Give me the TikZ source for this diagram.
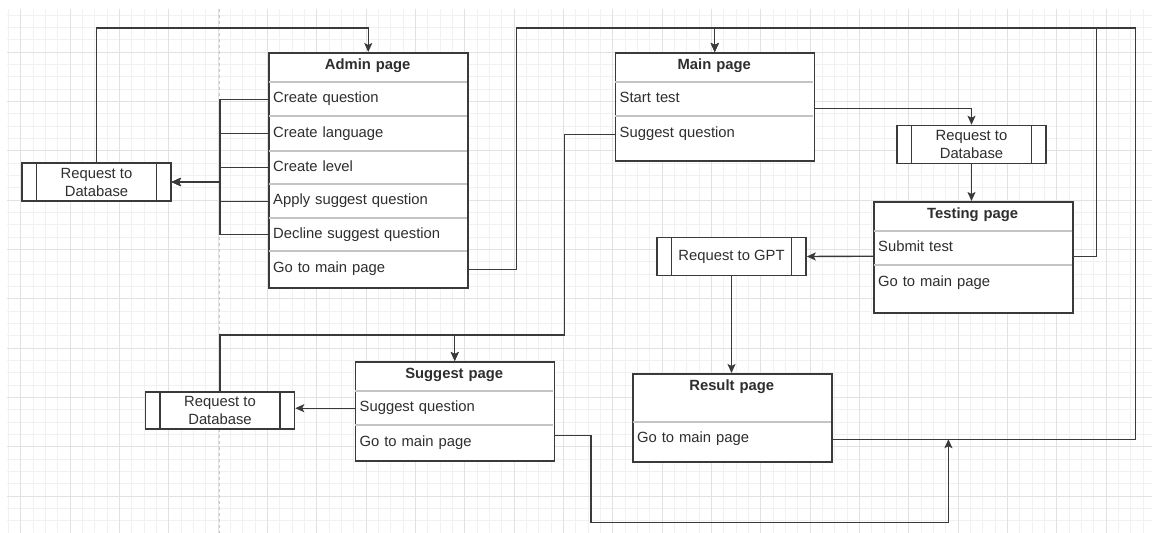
\documentclass[tikz,border=0pt]{standalone}
\usepackage{fontspec}
\setmainfont{Liberation Sans}
\usetikzlibrary{arrows.meta,calc}
\definecolor{ink}{HTML}{2E2E2E}
\definecolor{edge}{HTML}{3A3A3A}
\definecolor{gridminor}{HTML}{F1F1F1}
\definecolor{gridmajor}{HTML}{E2E2E2}
\definecolor{divider}{HTML}{C4C4C4}
\definecolor{pageline}{HTML}{C8C8C8}
\begin{document}
\begin{tikzpicture}[x=1pt,y=-1pt,
  font=\fontsize{14.8pt}{18pt}\selectfont,
  every node/.style={text=ink},
  pagebox/.style={draw=edge, line width=1.5pt, fill=white, anchor=north west,
    inner sep=0pt, minimum width=199pt},
  strip/.style={anchor=north west, minimum width=199pt, inner xsep=5pt, inner ysep=0pt,
    text width=189pt, align=left, text height=10.6pt, text depth=3.1pt},
  titlestrip/.style={strip, align=center, font=\fontsize{14.8pt}{18pt}\selectfont\bfseries},
  sep/.style={draw=divider, line width=1.2pt, shorten <=0.8pt, shorten >=0.8pt},
  proc/.style={draw=edge, line width=1.5pt, fill=white, minimum width=149pt,
    minimum height=38pt, inner sep=0pt, align=center,
    font=\fontsize{14.8pt}{18pt}\selectfont,
    path picture={\draw[edge, line width=1.2pt]
      ([xshift=14.5pt]path picture bounding box.north west) --
      ([xshift=14.5pt]path picture bounding box.south west)
      ([xshift=-14.5pt]path picture bounding box.north east) --
      ([xshift=-14.5pt]path picture bounding box.south east);}},
  link/.style={draw=edge, line width=1.4pt},
  tip/.style={-{Stealth[length=9pt,width=8pt,inset=2pt]}}
]
\useasboundingbox (0,0) rectangle (1152,533);

% background grid
\begin{scope}
  \clip (7,9) rectangle (1152,533);
  \foreach \k in {-1,...,92}
    \draw[gridminor, line width=1pt] ({20.7+12.333*\k},9) -- ++(0,524);
  \foreach \k in {0,...,44}
    \draw[gridminor, line width=1pt] (7,{2.7+12.333*\k}) -- ++(1145,0);
  \foreach \k in {0,...,23}
    \draw[gridmajor, line width=1pt] ({20.7+49.333*\k},9) -- ++(0,524);
  \foreach \k in {0,...,11}
    \draw[gridmajor, line width=1pt] (7,{2.7+49.333*\k}) -- ++(1145,0);
\end{scope}
\draw[pageline, line width=1pt, dash pattern=on 3pt off 3pt] (219,9) -- (219,533);

% Admin page
\node[pagebox, minimum height=235pt] (admin) at (268,52) {};
\node[titlestrip, minimum height=28pt] (admint) at (268,52) {Admin page};
\node[strip, minimum height=34pt] (adq) at (268,82) {Create question};
\node[strip, minimum height=35pt] (adl) at (268,116) {Create language};
\node[strip, minimum height=33pt] (adv) at (268,151) {Create level};
\node[strip, minimum height=34pt] (ada) at (268,184) {Apply suggest question};
\node[strip, minimum height=33pt] (add) at (268,218) {Decline suggest question};
\node[strip, minimum height=36pt] (adg) at (268,251) {Go to main page};
\foreach \r in {adq,adl,adv,ada,add,adg}
  \draw[sep] (\r.north west) -- (\r.north east);

% Main page
\node[pagebox, minimum height=108pt] (mainp) at (614.5,52) {};
\node[titlestrip, minimum height=28pt] (maint) at (614.5,52) {Main page};
\node[strip, minimum height=34pt] (mst) at (614.5,82) {Start test};
\node[strip, minimum height=36pt] (msq) at (614.5,116) {Suggest question};
\foreach \r in {mst,msq}
  \draw[sep] (\r.north west) -- (\r.north east);

% Testing page
\node[pagebox, minimum height=111pt] (testp) at (873,201) {};
\node[titlestrip, minimum height=28pt] (testt) at (873,201) {Testing page};
\node[strip, minimum height=34pt] (tsb) at (873,231) {Submit test};
\node[strip, minimum height=35pt] (tsg) at (873,265) {Go to main page};
\foreach \r in {tsb,tsg}
  \draw[sep] (\r.north west) -- (\r.north east);

% Result page
\node[pagebox, minimum height=88pt] (resp) at (632,373) {};
\node[titlestrip, minimum height=28pt] (rest) at (632,373) {Result page};
\node[strip, minimum height=34pt] (rsg) at (632,422) {Go to main page};
\draw[sep] (rsg.north west) -- (rsg.north east);

% Suggest page
\node[pagebox, minimum height=99pt] (sugp) at (354.5,361) {};
\node[titlestrip, minimum height=28pt] (sugt) at (354.5,361) {Suggest page};
\node[strip, minimum height=34pt] (ssq) at (354.5,391) {Suggest question};
\node[strip, minimum height=35pt] (sgo) at (354.5,425) {Go to main page};
\foreach \r in {ssq,sgo}
  \draw[sep] (\r.north west) -- (\r.north east);

% Requests
\node[proc] (rq1) at (96.5,182) {Request to\\Database};
\node[proc] (rq2) at (971.5,144.5) {Request to\\Database};
\node[proc] (gpt) at (731.5,256.5) {Request to GPT};
\node[proc, minimum height=37pt] (rq3) at (220,410.5) {Request to\\Database};

\coordinate (mergept) at ($(rsg.east)+(117,0)$);

% admin actions -> database
\foreach \r in {adq,adl,adv,ada,add}
  \draw[link,tip] (\r.west) -- ++(-48,0) |- (rq1.east);
% database -> admin page
\draw[link,tip] (rq1.north) |- ($(admin.north)+(0,-24)$) -- (admin.north);

% back to the main page
\draw[link,tip] (adg.east) -- ++(49,0) |- ($(mainp.north)+(0,-24)$) -- (mainp.north);
\draw[link,tip] ($(tsb.east)+(0,8)$) -- ++(24,0) |- ($(mainp.north)+(0,-24)$) -- (mainp.north);
\draw[link,tip] (rsg.east) -- ++(304,0) |- ($(mainp.north)+(0,-24)$) -- (mainp.north);
\draw[link,tip] ($(sgo.east)+(0,-7)$) -- ++(37,0) |- ($(mergept)+(0,83)$) -- (mergept);

% test flow
\draw[link,tip] ($(mst.east)+(0,9)$) -| (rq2.north);
\draw[link,tip] (rq2.south) -- (rq2.south |- testp.north);
\draw[link,tip] ($(tsb.west)+(0,8)$) -- (gpt.east);
\draw[link,tip] (gpt.south) -- (gpt.south |- resp.north);

% suggestion flow
\draw[link,tip] (msq.west) -- ++(-50,0) |- ($(sugp.north)+(0,-26)$) -- (sugp.north);
\draw[link,tip] (rq3.north) |- ($(sugp.north)+(0,-26)$) -- (sugp.north);
\draw[link,tip] (ssq.west) -- (ssq.west -| rq3.east);
\end{tikzpicture}
\end{document}
